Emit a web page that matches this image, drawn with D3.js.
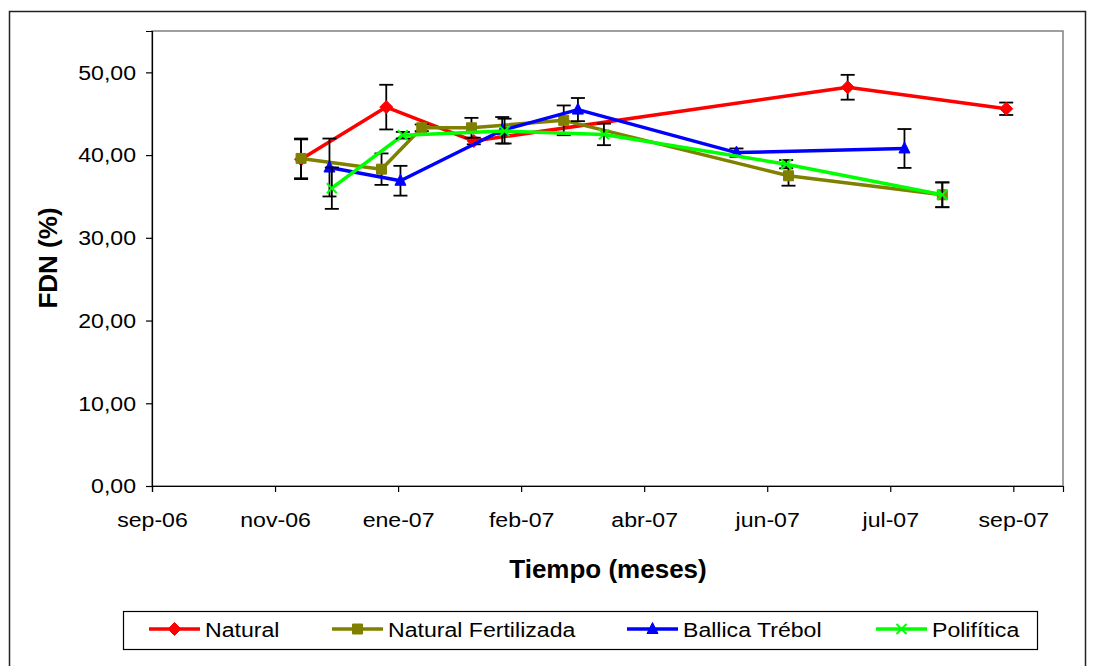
<!DOCTYPE html>
<html>
<head>
<meta charset="utf-8">
<script src="https://cdn.jsdelivr.net/npm/d3@7"></script>
<style>
  body { margin: 0; background: #fff; }
  svg { display: block; font-family: "Liberation Sans", Arial, sans-serif; }
</style>
</head>
<body>
<svg class="chart" width="1093" height="666"></svg>
<script>
// tick dates and their labels (Excel date axis, one tick every 52 days)
const tickDates = ["2006-09-20", "2006-11-11", "2007-01-02", "2007-02-23", "2007-04-16", "2007-06-07", "2007-07-29", "2007-09-19"]
const tickLabels = ["sep-06", "nov-06", "ene-07", "feb-07", "abr-07", "jun-07", "jul-07", "sep-07"]
const yTicks = [0, 10, 20, 30, 40, 50]

// Natural
const naturalDates = ["2006-11-22", "2006-12-28", "2007-02-03", "2007-07-11", "2007-09-16"]
const naturalValues = [39.5, 45.8, 41.7, 48.2, 45.6]
const naturalErrors = [2.4, 2.7, 0.4, 1.5, 0.75]

// Natural Fertilizada
const fertDates = ["2006-11-22", "2006-12-26", "2007-01-12", "2007-02-02", "2007-03-13", "2007-06-16", "2007-08-20"]
const fertValues = [39.6, 38.3, 43.3, 43.3, 44.2, 37.5, 35.2]
const fertErrors = [2.4, 1.9, 0.4, 1.2, 1.8, 1.2, 1.5]

// Ballica Trébol
const ballicaDates = ["2006-12-04", "2007-01-03", "2007-02-15", "2007-03-19", "2007-05-25", "2007-08-04"]
const ballicaValues = [38.5, 36.9, 43.0, 45.5, 40.3, 40.8]
const ballicaErrors = [3.5, 1.8, 1.6, 1.4, 0.5, 2.35]

// Polifítica
const poliDates = ["2006-12-05", "2007-01-04", "2007-02-16", "2007-03-30", "2007-06-15", "2007-08-20"]
const poliValues = [36.0, 42.4, 42.9, 42.5, 38.9, 35.2]
const poliErrors = [2.5, 0.4, 1.5, 1.3, 0.5, 1.5]

const parseDate = d3.utcParse("%Y-%m-%d")

const series = [
	{ name: "Natural", color: "#ff0000", marker: "diamond", dates: naturalDates, values: naturalValues, errors: naturalErrors },
	{ name: "Natural Fertilizada", color: "#808000", marker: "square", dates: fertDates, values: fertValues, errors: fertErrors },
	{ name: "Ballica Trébol", color: "#0000ff", marker: "triangle", dates: ballicaDates, values: ballicaValues, errors: ballicaErrors },
	{ name: "Polifítica", color: "#00ff00", marker: "cross", dates: poliDates, values: poliValues, errors: poliErrors }
]
series.forEach(s => {
	s.points = s.dates.map((d, i) => ({ date: parseDate(d), value: s.values[i], err: s.errors[i] }))
})

const svg = d3.select("svg.chart")

// plot area
const plotLeft = 152, plotRight = 1063, plotTop = 31, plotBottom = 486
const stretch = 1.1 // Excel text looks a bit wide

const x = d3.scaleUtc()
	.domain([parseDate("2006-09-20"), parseDate("2007-10-10")])
	.range([plotLeft, plotRight])

const y = d3.scaleLinear()
	.domain([0, 55])
	.range([plotBottom, plotTop])

// outer chart frame
svg.append("rect")
	.attr("x", 9.5).attr("y", 11.5)
	.attr("width", 1076).attr("height", 670)
	.attr("fill", "#fff")
	.attr("stroke", "#222")
	.attr("stroke-width", 1.5)

// plot frame (top and right in gray)
svg.append("rect")
	.attr("x", plotLeft).attr("y", plotTop)
	.attr("width", plotRight - plotLeft).attr("height", plotBottom - plotTop)
	.attr("fill", "#fff")
	.attr("stroke", "#808080")
	.attr("stroke-width", 1.5)

// axes
const yAxis = d3.axisLeft(y)
	.tickValues(yTicks)
	.tickSize(6)
	.tickFormat(d => d3.format(".2f")(d).replace(".", ","))

const xAxis = d3.axisBottom(x)
	.tickValues(tickDates.map(parseDate))
	.tickSize(6)
	.tickPadding(20)
	.tickFormat((d, i) => tickLabels[i])

const gy = svg.append("g")
	.attr("transform", "translate(" + plotLeft + ",0)")
	.call(yAxis)
const gx = svg.append("g")
	.attr("transform", "translate(0," + plotBottom + ")")
	.call(xAxis)

for (const g of [gx, gy]) {
	g.select(".domain").attr("stroke", "#000").attr("stroke-width", 1.2)
	g.selectAll(".tick line").attr("stroke", "#000").attr("stroke-width", 1.2)
	g.selectAll(".tick text")
		.attr("fill", "#000")
		.attr("transform", "scale(" + stretch + ",1)")
		.style("font-family", "'Liberation Sans', Arial, sans-serif")
		.style("font-size", "21px")
}
gy.selectAll(".tick text").attr("x", -16 / stretch)

// axis titles
svg.append("text")
	.attr("x", 608).attr("y", 578)
	.attr("text-anchor", "middle")
	.style("font-size", "26px")
	.style("font-weight", "bold")
	.text("Tiempo (meses)")

svg.append("text")
	.attr("transform", "translate(57,258) rotate(-90)")
	.attr("text-anchor", "middle")
	.style("font-size", "26px")
	.style("font-weight", "bold")
	.text("FDN (%)")

// marker shapes
function markerPath(type) {
	if (type === "diamond") return "M0,-6.5L6.5,0L0,6.5L-6.5,0Z"
	if (type === "square") return "M-5,-5H5V5H-5Z"
	if (type === "triangle") return "M0,-6.5L5.5,4.5H-5.5Z"
	return "M-5,-5L5,5M-5,5L5,-5"
}

function drawMarker(sel, s) {
	sel.append("path")
		.attr("d", markerPath(s.marker))
		.attr("fill", s.marker === "cross" ? "none" : s.color)
		.attr("stroke", s.color)
		.attr("stroke-width", s.marker === "cross" ? 2 : 1)
}

const line = d3.line()
	.x(d => x(d.date))
	.y(d => y(d.value))

series.forEach(s => {
	const g = svg.append("g")

	g.append("path")
		.datum(s.points)
		.attr("d", line)
		.attr("fill", "none")
		.attr("stroke", s.color)
		.attr("stroke-width", 3.5)
		.attr("stroke-linejoin", "round")

	// error bars
	const bars = g.selectAll("g.err")
		.data(s.points)
		.enter()
		.append("g")
		.attr("class", "err")
		.attr("stroke", "#000")
		.attr("stroke-width", 1.8)

	bars.append("line")
		.attr("x1", d => x(d.date)).attr("x2", d => x(d.date))
		.attr("y1", d => y(d.value + d.err)).attr("y2", d => y(d.value - d.err))
	bars.append("line")
		.attr("x1", d => x(d.date) - 7).attr("x2", d => x(d.date) + 7)
		.attr("y1", d => y(d.value + d.err)).attr("y2", d => y(d.value + d.err))
	bars.append("line")
		.attr("x1", d => x(d.date) - 7).attr("x2", d => x(d.date) + 7)
		.attr("y1", d => y(d.value - d.err)).attr("y2", d => y(d.value - d.err))

	// markers
	g.selectAll("g.mk")
		.data(s.points)
		.enter()
		.append("g")
		.attr("class", "mk")
		.attr("transform", d => "translate(" + x(d.date) + "," + y(d.value) + ")")
		.each(function () { drawMarker(d3.select(this), s) })
})

// legend
svg.append("rect")
	.attr("x", 123.5).attr("y", 611.5)
	.attr("width", 914).attr("height", 38)
	.attr("fill", "#fff")
	.attr("stroke", "#000")
	.attr("stroke-width", 1.2)

const legendX = [149, 332, 627, 876]
const legendItems = svg.append("g")
	.selectAll("g")
	.data(series)
	.enter()
	.append("g")
	.attr("transform", (d, i) => "translate(" + legendX[i] + ",629)")

legendItems.append("line")
	.attr("x1", 0).attr("x2", 51)
	.attr("stroke", d => d.color)
	.attr("stroke-width", 3.5)

legendItems.append("g")
	.attr("transform", "translate(25.5,0)")
	.each(function (d) { drawMarker(d3.select(this), d) })

legendItems.append("text")
	.attr("x", 56 / stretch)
	.attr("y", 7.5)
	.attr("transform", "scale(" + stretch + ",1)")
	.style("font-size", "21px")
	.text(d => d.name)
</script>
</body>
</html>
